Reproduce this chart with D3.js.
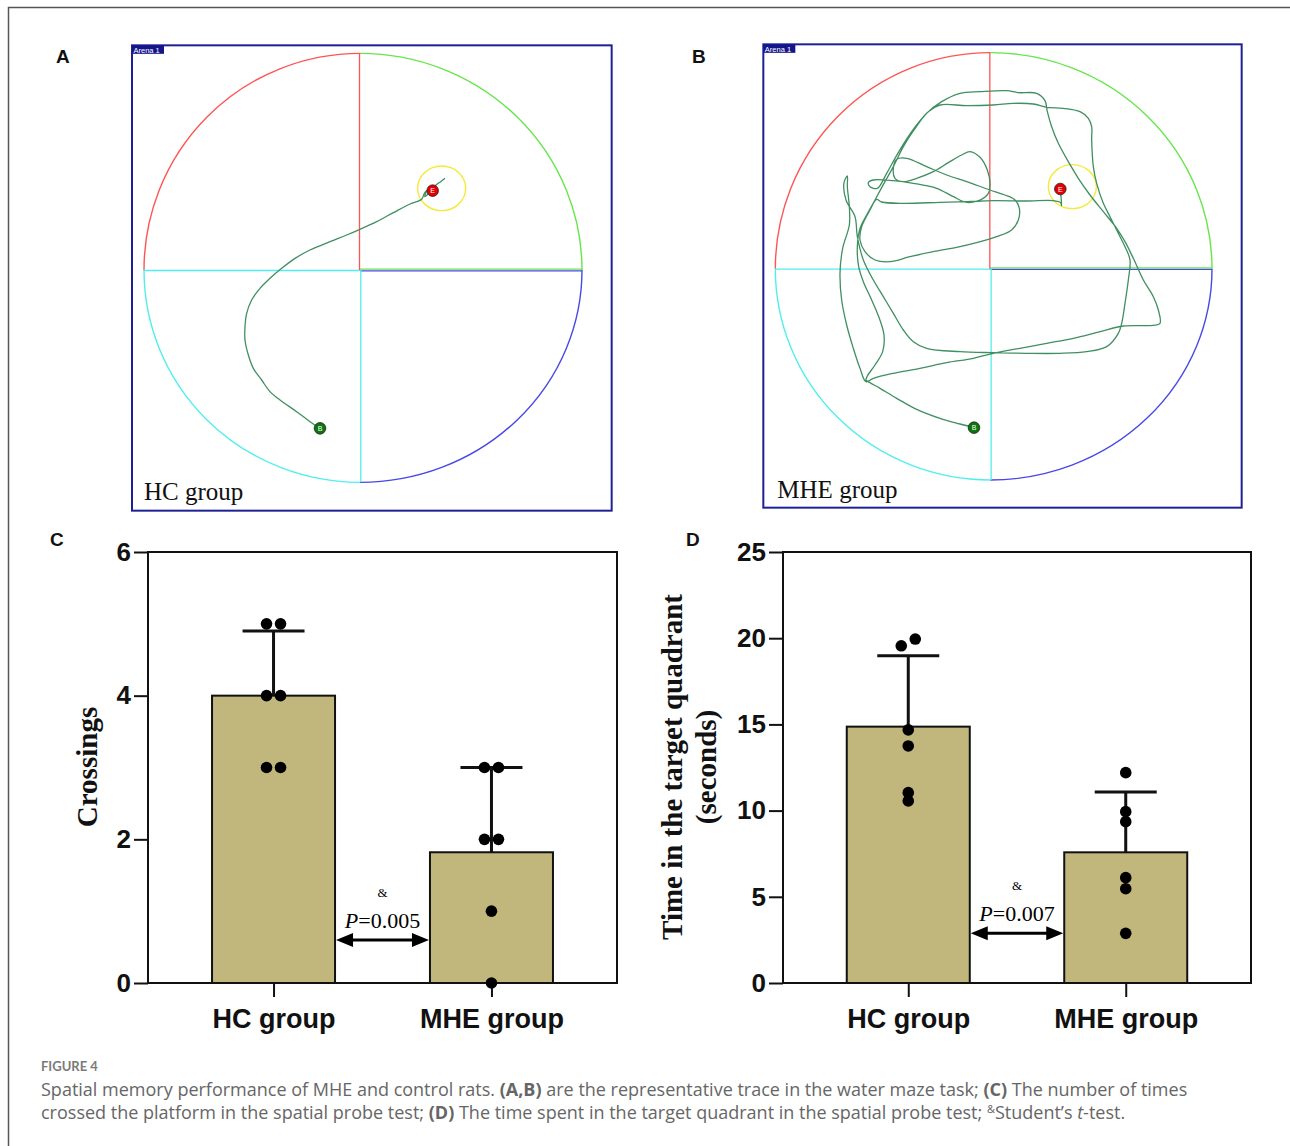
<!DOCTYPE html>
<html>
<head>
<meta charset="utf-8">
<script src="https://cdn.jsdelivr.net/npm/d3@7"></script>
<style>
  body { margin: 0; background: #fff; }
  svg { display: block; }
</style>
</head>
<body>
<div id="figure"></div>
<script>
"use strict";

// ---------- data ----------
const groups = ["HC group", "MHE group"];

// C: platform crossings
const crossHC = [5, 5, 4, 4, 3, 3];
const crossMHE = [3, 3, 2, 2, 1, 0];
const crossMean = [4.0, 1.82];
const crossSD = [0.9, 1.18];
const crossTicks = [0, 2, 4, 6];

// D: time in target quadrant (s)
const timeHC = [19.95, 19.56, 14.68, 13.75, 11.04, 10.56];
const timeMHE = [12.2, 9.94, 9.36, 6.11, 5.47, 2.88];
const timeMean = [14.87, 7.58];
const timeSD = [4.11, 3.5];
const timeTicks = [0, 5, 10, 15, 20, 25];

// swim traces, tracker image pixels (grid 0-1470 x 0-1440), start -> end
const traceHC = [
  [570,1165],[540,1145],[500,1115],[450,1080],[420,1055],[395,1020],[370,985],[355,945],
  [345,900],[345,860],[350,820],[365,780],[390,745],[420,715],[455,685],[495,655],
  [540,630],[600,605],[650,585],[690,568],[740,545],[790,518],[840,492],[875,478],
  [882,462],[890,452],[884,470],[895,462],[905,452],[918,435],[932,425],[945,415]
];
const traceMHE = [
  [642,1163],[600,1152],[540,1135],[470,1108],[410,1075],[360,1045],[330,1028],[318,1020],
  [322,1008],[345,975],[368,935],[372,885],[358,835],[335,780],[310,725],[296,680],
  [292,620],[300,565],[320,525],[345,480],[372,430],[400,380],[430,320],[462,270],
  [500,220],[545,185],[600,160],[660,155],[740,152],[775,158],[830,160],[855,182],
  [862,215],[875,260],[895,310],[925,365],[955,415],[990,465],[1030,515],[1070,565],
  [1095,605],[1120,655],[1150,720],[1180,770],[1195,810],[1200,850],[1180,856],[1090,858],
  [1020,875],[940,895],[860,910],[780,925],[700,940],[640,955],[560,968],[480,985],
  [400,1000],[340,1015],[318,1025],[300,985],[280,925],[260,855],[245,780],[240,700],
  [248,625],[268,555],[268,500],[262,440],[262,408],[252,428],[258,480],[285,530],
  [292,590],[310,660],[340,720],[370,770],[400,820],[430,870],[460,905],[500,925],
  [600,935],[700,938],[800,940],[900,940],[980,935],[1040,920],[1075,880],[1085,850],
  [1095,790],[1105,720],[1110,660],[1095,620],[1075,580],[1050,530],[1030,490],[1010,430],
  [1000,380],[995,300],[995,260],[985,235],[960,215],[910,205],[860,202],[820,192],
  [760,190],[700,195],[620,197],[540,195],[505,215],[470,255],[435,305],[405,355],
  [380,400],[352,445],[330,440],[325,428],[340,420],[400,422],[460,430],[530,445],
  [580,470],[620,487],[660,480],[685,460],[690,430],[682,390],[660,352],[630,335],
  [605,345],[565,368],[520,395],[470,415],[430,425],[405,415],[400,385],[410,358],
  [440,355],[500,380],[560,405],[620,425],[690,450],[735,465],[765,480],[778,505],
  [775,540],[755,570],[710,590],[650,608],[590,622],[520,635],[450,650],[390,665],
  [345,660],[315,635],[300,600],[305,560],[330,510],[350,478],[365,486],[430,490],
  [540,487],[620,485],[700,482],[800,483],[880,482],[902,488],[905,497],[903,470],[901,455]
];

// ---------- page ----------
const W = 1290, H = 1146;
const svg = d3.select("#figure").append("svg")
    .attr("width", W)
    .attr("height", H)
    .style("font-family", "'Liberation Sans', Arial, sans-serif");

svg.append("path")
    .attr("d", "M8.5,1146 V7.5 H1290")
    .attr("fill", "none")
    .attr("stroke", "#555")
    .attr("stroke-width", 1.5);

////////// A, B: water maze traces //////////

function drawArena(opt) {
    const a = opt.arena;
    const xs = d3.scaleLinear().domain([0, 1470]).range([opt.x0, opt.x0 + 490]);
    const ys = d3.scaleLinear().domain([0, 1440]).range([40, 520]);
    const k = xs(1) - xs(0);
    const g = svg.append("g");

    g.append("rect")
        .attr("x", xs(a.box[0])).attr("y", ys(a.box[1]))
        .attr("width", (a.box[2] - a.box[0]) * k)
        .attr("height", (a.box[3] - a.box[1]) * k)
        .attr("fill", "none")
        .attr("stroke", "#1f1f96")
        .attr("stroke-width", 2);

    // "Arena 1" tag
    g.append("rect")
        .attr("x", xs(a.box[0])).attr("y", ys(a.box[1]))
        .attr("width", 32).attr("height", 8.5)
        .attr("fill", "#15158a");
    g.append("text")
        .attr("x", xs(a.box[0]) + 1.5).attr("y", ys(a.box[1]) + 7.2)
        .attr("font-size", 7.5)
        .attr("fill", "#fff")
        .text("Arena 1");

    const cx = xs(a.cx), cy = ys(a.cy);
    const L = xs(a.left), R = xs(a.right), T = ys(a.top), B = ys(a.bottom);
    const quads = [
        { c: "#ff5454", d: `M${L},${cy} A${cx - L},${cy - T} 0 0 1 ${cx},${T}` },
        { c: "#66e64c", d: `M${cx},${T} A${R - cx},${cy - T} 0 0 1 ${R},${cy}` },
        { c: "#4848e8", d: `M${R},${cy} A${R - cx},${B - cy} 0 0 1 ${cx},${B}` },
        { c: "#52eeee", d: `M${cx},${B} A${cx - L},${B - cy} 0 0 1 ${L},${cy}` }
    ];
    g.selectAll("path.quad")
        .data(quads)
        .enter()
        .append("path")
        .attr("class", "quad")
        .attr("d", d => d.d)
        .attr("fill", "none")
        .attr("stroke", d => d.c)
        .attr("stroke-width", 1.4);

    const lines = [
        { c: "#4848e8", x1: cx, y1: cy + 0.8, x2: R, y2: cy + 0.8 },
        { c: "#66e64c", x1: cx, y1: cy - 0.8, x2: R, y2: cy - 0.8 },
        { c: "#52eeee", x1: L, y1: cy + 0.5, x2: cx, y2: cy + 0.5 },
        { c: "#52eeee", x1: cx + 0.8, y1: cy, x2: cx + 0.8, y2: B },
        { c: "#ff5454", x1: cx - 0.5, y1: T, x2: cx - 0.5, y2: cy }
    ];
    g.selectAll("line.cross")
        .data(lines)
        .enter()
        .append("line")
        .attr("class", "cross")
        .attr("x1", d => d.x1).attr("y1", d => d.y1)
        .attr("x2", d => d.x2).attr("y2", d => d.y2)
        .attr("stroke", d => d.c)
        .attr("stroke-width", 1.3);

    // platform zone
    g.append("ellipse")
        .attr("cx", xs(a.pool[0])).attr("cy", ys(a.pool[1]))
        .attr("rx", a.pool[2] * k).attr("ry", a.pool[3] * k)
        .attr("fill", "none")
        .attr("stroke", "#f4ea3a")
        .attr("stroke-width", 1.4);

    // swim path
    const line = d3.line()
        .x(d => xs(d[0]))
        .y(d => ys(d[1]))
        .curve(d3.curveCatmullRom.alpha(0.5));
    g.append("path")
        .attr("d", line(opt.trace))
        .attr("fill", "none")
        .attr("stroke", "#3f8f60")
        .attr("stroke-width", 1.3);

    // start / end markers
    const marks = [
        { p: a.end, fill: "#e40000", t: "E" },
        { p: a.start, fill: "#0b760b", t: "B" }
    ];
    const m = g.selectAll("g.mark")
        .data(marks)
        .enter()
        .append("g")
        .attr("class", "mark")
        .attr("transform", d => `translate(${xs(d.p[0])},${ys(d.p[1])})`);
    m.append("circle")
        .attr("r", 5.8)
        .attr("fill", d => d.fill)
        .attr("stroke", "#222")
        .attr("stroke-width", 0.8);
    m.append("text")
        .attr("text-anchor", "middle")
        .attr("y", 2.6)
        .attr("font-size", 7)
        .attr("fill", "#fff")
        .text(d => d.t);

    g.append("text")
        .attr("x", xs(a.tag[0])).attr("y", ys(a.tag[1]))
        .attr("font-family", "'Liberation Serif', 'Times New Roman', serif")
        .attr("font-size", 25)
        .attr("fill", "#111")
        .text(opt.label);
}

drawArena({
    x0: 130,
    trace: traceHC,
    label: "HC group",
    arena: { box: [6, 16, 1445, 1412], left: 42, right: 1356, top: 40, bottom: 1327,
             cx: 690, cy: 690, pool: [935, 445, 72, 67], start: [570, 1165], end: [908, 452], tag: [42, 1380] }
});
drawArena({
    x0: 760,
    trace: traceMHE,
    label: "MHE group",
    arena: { box: [10, 13, 1445, 1403], left: 46, right: 1356, top: 38, bottom: 1320,
             cx: 691, cy: 686, pool: [937, 440, 72, 66], start: [642, 1163], end: [901, 447], tag: [52, 1375] }
});

////////// C, D: bar charts //////////

function swarm(vals, y, cx) {
    const s = vals.map(v => ({ v: v, py: y(v) })).sort((p, q) => q.py - p.py);
    const out = [];
    for (let i = 0; i < s.length; i++) {
        const nx = s[i + 1];
        if (nx && Math.abs(nx.py - s[i].py) < 7.5) {
            out.push({ cx: cx - 7, cy: s[i].py }, { cx: cx + 7, cy: nx.py });
            i++;
        } else {
            out.push({ cx: cx, cy: s[i].py });
        }
    }
    return out;
}

function drawBars(opt) {
    const g = svg.append("g");
    const x = d3.scalePoint().domain(groups).range([opt.left, opt.right]).padding(0.576);
    const y = d3.scaleLinear().domain([0, opt.max]).range([983, 552]);
    const bw = 123;

    // y axis
    const ya = g.append("g")
        .attr("transform", `translate(${opt.left},0)`)
        .call(d3.axisLeft(y).tickValues(opt.ticks).tickFormat(d3.format("d")).tickSize(14).tickPadding(3));
    ya.select(".domain").remove();
    ya.selectAll("line").attr("stroke", "#111").attr("stroke-width", 2);
    ya.selectAll("text")
        .attr("font-family", "'Liberation Sans', Arial, sans-serif")
        .attr("font-weight", "bold")
        .attr("font-size", 26)
        .attr("fill", "#111");

    // x axis
    const xa = g.append("g")
        .attr("transform", "translate(0,983)")
        .call(d3.axisBottom(x).tickSize(14).tickPadding(12));
    xa.select(".domain").remove();
    xa.selectAll("line").attr("stroke", "#111").attr("stroke-width", 2);
    xa.selectAll("text")
        .attr("font-family", "'Liberation Sans', Arial, sans-serif")
        .attr("font-weight", "bold")
        .attr("font-size", 27)
        .attr("fill", "#111");

    // frame
    g.append("rect")
        .attr("x", opt.left).attr("y", y(opt.max))
        .attr("width", opt.right - opt.left)
        .attr("height", y(0) - y(opt.max))
        .attr("fill", "none")
        .attr("stroke", "#111")
        .attr("stroke-width", 2);

    // bars
    g.selectAll("rect.bar")
        .data(groups)
        .enter()
        .append("rect")
        .attr("class", "bar")
        .attr("x", d => x(d) - bw / 2)
        .attr("y", (d, i) => y(opt.mean[i]))
        .attr("width", bw)
        .attr("height", (d, i) => y(0) - y(opt.mean[i]))
        .attr("fill", "#c1b77d")
        .attr("stroke", "#111")
        .attr("stroke-width", 2);

    // error bars (mean + SD)
    const eb = g.selectAll("g.err")
        .data(groups)
        .enter()
        .append("g")
        .attr("class", "err");
    eb.append("line")
        .attr("x1", d => x(d)).attr("x2", d => x(d))
        .attr("y1", (d, i) => y(opt.mean[i]))
        .attr("y2", (d, i) => y(opt.mean[i] + opt.sd[i]))
        .attr("stroke", "#111").attr("stroke-width", 3);
    eb.append("line")
        .attr("x1", d => x(d) - 31).attr("x2", d => x(d) + 31)
        .attr("y1", (d, i) => y(opt.mean[i] + opt.sd[i]))
        .attr("y2", (d, i) => y(opt.mean[i] + opt.sd[i]))
        .attr("stroke", "#111").attr("stroke-width", 3);

    // individual points
    const pts = swarm(opt.points[0], y, x(groups[0])).concat(swarm(opt.points[1], y, x(groups[1])));
    g.selectAll("circle.pt")
        .data(pts)
        .enter()
        .append("circle")
        .attr("class", "pt")
        .attr("cx", d => d.cx)
        .attr("cy", d => d.cy)
        .attr("r", 5.8)
        .attr("fill", "#000");

    // comparison arrow
    const ay = y(opt.arrowAt);
    const x1 = x(groups[0]) + bw / 2 + 1, x2 = x(groups[1]) - bw / 2 - 1;
    g.append("line")
        .attr("x1", x1 + 10).attr("x2", x2 - 10)
        .attr("y1", ay).attr("y2", ay)
        .attr("stroke", "#000").attr("stroke-width", 3);
    g.append("path")
        .attr("d", `M${x1},${ay} L${x1 + 17},${ay - 7} L${x1 + 17},${ay + 7} Z M${x2},${ay} L${x2 - 17},${ay - 7} L${x2 - 17},${ay + 7} Z`)
        .attr("fill", "#000");
    const mid = (x1 + x2) / 2;
    g.append("text")
        .attr("x", mid).attr("y", ay - 43)
        .attr("text-anchor", "middle")
        .attr("font-family", "'Liberation Serif', 'Times New Roman', serif")
        .attr("font-size", 13)
        .text("&");
    const pt = g.append("text")
        .attr("x", mid).attr("y", ay - 12)
        .attr("text-anchor", "middle")
        .attr("font-family", "'Liberation Serif', 'Times New Roman', serif")
        .attr("font-size", 22);
    pt.append("tspan").attr("font-style", "italic").text("P");
    pt.append("tspan").text(opt.pText);

    // y title
    opt.title.forEach((t, i) => {
        g.append("text")
            .attr("transform", `translate(${opt.titleX[i]},767) rotate(-90)`)
            .attr("text-anchor", "middle")
            .attr("font-family", "'Liberation Serif', 'Times New Roman', serif")
            .attr("font-weight", "bold")
            .attr("font-size", 29)
            .attr("fill", "#111")
            .text(t);
    });
}

drawBars({
    left: 148, right: 617, max: 6, ticks: crossTicks,
    mean: crossMean, sd: crossSD, points: [crossHC, crossMHE],
    arrowAt: 0.6, pText: "=0.005",
    title: ["Crossings"], titleX: [97]
});
drawBars({
    left: 783, right: 1251, max: 25, ticks: timeTicks,
    mean: timeMean, sd: timeSD, points: [timeHC, timeMHE],
    arrowAt: 2.88, pText: "=0.007",
    title: ["Time in the target quadrant", "(seconds)"], titleX: [682, 716]
});

// panel letters
const letters = [
    { t: "A", x: 56, y: 63 }, { t: "B", x: 692, y: 63 },
    { t: "C", x: 50, y: 546 }, { t: "D", x: 686, y: 546 }
];
svg.selectAll("text.letter")
    .data(letters)
    .enter()
    .append("text")
    .attr("class", "letter")
    .attr("x", d => d.x).attr("y", d => d.y)
    .attr("font-weight", "bold")
    .attr("font-size", 19)
    .attr("fill", "#111")
    .text(d => d.t);

////////// caption //////////
const cap = svg.append("g")
    .attr("font-family", "'Open Sans', Lato, sans-serif")
    .attr("fill", "#666");

cap.append("text")
    .attr("x", 41).attr("y", 1071)
    .attr("font-family", "Lato, 'Open Sans', sans-serif")
    .attr("font-size", 13)
    .attr("font-weight", "bold")
    .attr("fill", "#7a7a7a")
    .text("FIGURE 4");

const capLines = [
    [["Spatial memory performance of MHE and control rats. ", ""], ["(A,B)", "b"],
     [" are the representative trace in the water maze task; ", ""], ["(C)", "b"], [" The number of times", ""]],
    [["crossed the platform in the spatial probe test; ", ""], ["(D)", "b"],
     [" The time spent in the target quadrant in the spatial probe test; ", ""], ["&", "sup"],
     ["Student\u2019s ", ""], ["t", "i"], ["-test.", ""]]
];
const capTexts = capLines.map((ln, i) => {
    const t = cap.append("text")
        .attr("x", 41).attr("y", 1096 + i * 23)
        .attr("font-size", 17);
    ln.forEach(s => {
        const ts = t.append("tspan").text(s[0]);
        if (s[1] === "b") ts.attr("font-weight", "bold");
        if (s[1] === "i") ts.attr("font-style", "italic");
        if (s[1] === "sup") ts.attr("font-size", 11).attr("dy", -6);
        if (s[0] === "Student\u2019s ") ts.attr("dy", 6);
    });
    return t;
});
// fit the first caption line to its width in the figure (41 -> 1196)
const w0 = capTexts[0].node().getComputedTextLength();
const fs = Math.min(18, Math.max(15, 17 * 1155 / w0));
capTexts.forEach(t => t.attr("font-size", fs));
</script>
</body>
</html>
